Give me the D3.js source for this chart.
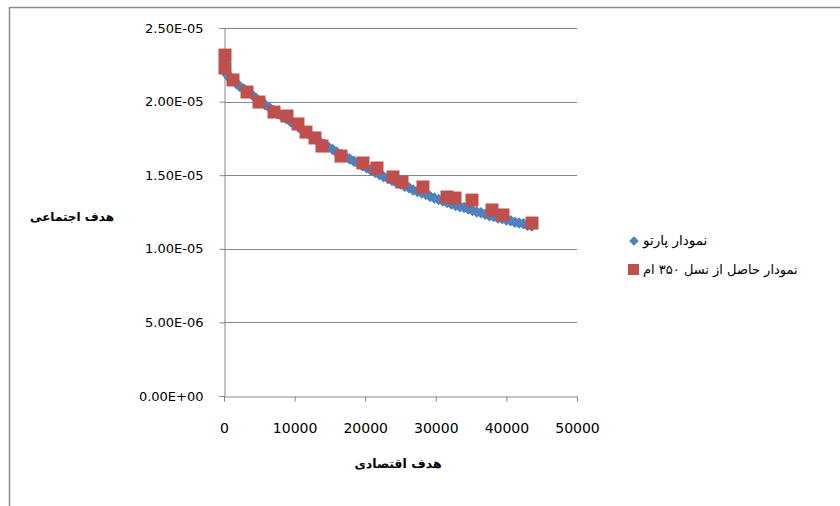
<!DOCTYPE html>
<html><head><meta charset="utf-8">
<script src="https://cdn.jsdelivr.net/npm/d3@7"></script>
<style>body{margin:0;background:#fff}svg{display:block}</style>
</head><body>
<script>
// Pareto front (blue diamonds)
const paretoX = [0,50,150,300,500,800,1200,1700,2200,2800,3400,4000,4600,5200,5800,6400,7000,7600,8200,8800,9400,10000,10600,11200,11800,12400,13000,13600,14200,14800,15400,16000,16600,17200,17800,18400,19000,19600,20200,20800,21400,22000,22600,23200,23800,24400,25000,25600,26200,26800,27400,28000,28600,29200,29800,30400,31000,31600,32200,32800,33400,34000,34600,35200,35800,36400,37000,37600,38200,38800,39400,40000,40600,41200,41800,42400,43000,43600];
const paretoY = [2.31e-5,2.27e-5,2.23e-5,2.20e-5,2.18e-5,2.16e-5,2.145e-5,2.125e-5,2.105e-5,2.085e-5,2.065e-5,2.045e-5,2.02e-5,2.00e-5,1.98e-5,1.96e-5,1.94e-5,1.92e-5,1.90e-5,1.885e-5,1.865e-5,1.845e-5,1.825e-5,1.805e-5,1.785e-5,1.765e-5,1.745e-5,1.725e-5,1.71e-5,1.69e-5,1.675e-5,1.655e-5,1.64e-5,1.625e-5,1.61e-5,1.595e-5,1.58e-5,1.565e-5,1.55e-5,1.535e-5,1.52e-5,1.505e-5,1.49e-5,1.48e-5,1.465e-5,1.45e-5,1.44e-5,1.425e-5,1.415e-5,1.40e-5,1.39e-5,1.38e-5,1.37e-5,1.355e-5,1.345e-5,1.335e-5,1.325e-5,1.315e-5,1.305e-5,1.295e-5,1.285e-5,1.28e-5,1.27e-5,1.26e-5,1.25e-5,1.245e-5,1.235e-5,1.225e-5,1.22e-5,1.21e-5,1.205e-5,1.195e-5,1.19e-5,1.18e-5,1.175e-5,1.17e-5,1.16e-5,1.155e-5];
// Generation 350 result (red squares)
const genX = [140,140,1275,3258,4957,7082,8923,10481,11614,12889,13880,16571,19687,21670,23937,25212,28186,31586,32719,35127,37960,39518,43626];
const genY = [2.316e-5,2.228e-5,2.147e-5,2.065e-5,1.997e-5,1.929e-5,1.902e-5,1.848e-5,1.793e-5,1.753e-5,1.698e-5,1.630e-5,1.583e-5,1.549e-5,1.488e-5,1.454e-5,1.420e-5,1.352e-5,1.345e-5,1.331e-5,1.264e-5,1.230e-5,1.175e-5];
const xTicks = [0,10000,20000,30000,40000,50000];
const yTicks = [0,5e-6,1e-5,1.5e-5,2e-5,2.5e-5];
const yTickLabels = ["0.00E+00","5.00E-06","1.00E-05","1.50E-05","2.00E-05","2.50E-05"];
const seriesNames = ["نمودار پارتو","نمودار حاصل از نسل ۳۵۰ ام"];
const xTitle = "هدف اقتصادی";
const yTitle = "هدف اجتماعی";
const colors = ["#4F81BD","#C0504D"];

const W = 840, H = 506;
const svg = d3.select("body").append("svg").attr("width", W).attr("height", H);
const font = "'DejaVu Sans', sans-serif";

// outer frame
svg.append("path").attr("d", `M9.5,${H} V7.5 H${W}`).attr("fill","none").attr("stroke","#8c8c8c").attr("stroke-width",1.5);

const x = d3.scaleLinear().domain([0,50000]).range([224,577]);
const y = d3.scaleLinear().domain([0,2.5e-5]).range([396,28]);

// gridlines
svg.append("g").selectAll("line").data(yTicks.slice(1)).join("line")
  .attr("x1",224).attr("x2",577).attr("y1",d=>Math.round(y(d))+0.5).attr("y2",d=>Math.round(y(d))+0.5)
  .attr("stroke","#868686").attr("stroke-width",1);

// y axis
const yAxis = svg.append("g").attr("transform","translate(224.5,0)")
  .call(d3.axisLeft(y).tickValues(yTicks).tickFormat((d,i)=>yTickLabels[i]).tickSize(5).tickPadding(16));
yAxis.select(".domain").attr("stroke","#868686");
yAxis.selectAll(".tick line").attr("stroke","#868686");
yAxis.selectAll("text").attr("font-family",font).attr("font-size",13).attr("fill","#000");

// x axis
const xAxis = svg.append("g").attr("transform","translate(0,396.5)")
  .call(d3.axisBottom(x).tickValues(xTicks).tickFormat(d3.format("d")).tickSize(5).tickPadding(22));
xAxis.select(".domain").attr("stroke","#868686");
xAxis.selectAll(".tick line").attr("stroke","#868686");
xAxis.selectAll("text").attr("font-family",font).attr("font-size",14).attr("fill","#000");

// blue diamonds
const diamond = d3.symbol().type(d3.symbolDiamond2).size(85);
svg.append("g").selectAll("path").data(paretoX.map((v,i)=>[v,paretoY[i]])).join("path")
  .attr("d", diamond).attr("transform", d=>`translate(${x(d[0])},${y(d[1])})`)
  .attr("fill", colors[0]);

// red squares
const sq = 13;
svg.append("g").selectAll("rect").data(genX.map((v,i)=>[v,genY[i]])).join("rect")
  .attr("x", d=>x(d[0])-sq/2).attr("y", d=>y(d[1])-sq/2).attr("width",sq).attr("height",sq)
  .attr("fill", colors[1]);

// axis titles
svg.append("text").attr("x",72).attr("y",221).attr("text-anchor","middle")
  .attr("font-family",font).attr("font-size",12).attr("font-weight","bold").text(yTitle);
svg.append("text").attr("x",398).attr("y",468).attr("text-anchor","middle")
  .attr("font-family",font).attr("font-size",12.5).attr("font-weight","bold").text(xTitle);

// legend
const lg = svg.append("g");
lg.append("path").attr("d", d3.symbol().type(d3.symbolDiamond2).size(60)()).attr("transform","translate(634,241)").attr("fill",colors[0]);
lg.append("rect").attr("x",628).attr("y",264).attr("width",11).attr("height",11).attr("fill",colors[1]);
lg.append("text").attr("x",643).attr("y",245).attr("font-family",font).attr("font-size",13.5).text(seriesNames[0]);
lg.append("text").attr("x",643).attr("y",274).attr("font-family",font).attr("font-size",13).text(seriesNames[1]);
</script>
</body></html>
